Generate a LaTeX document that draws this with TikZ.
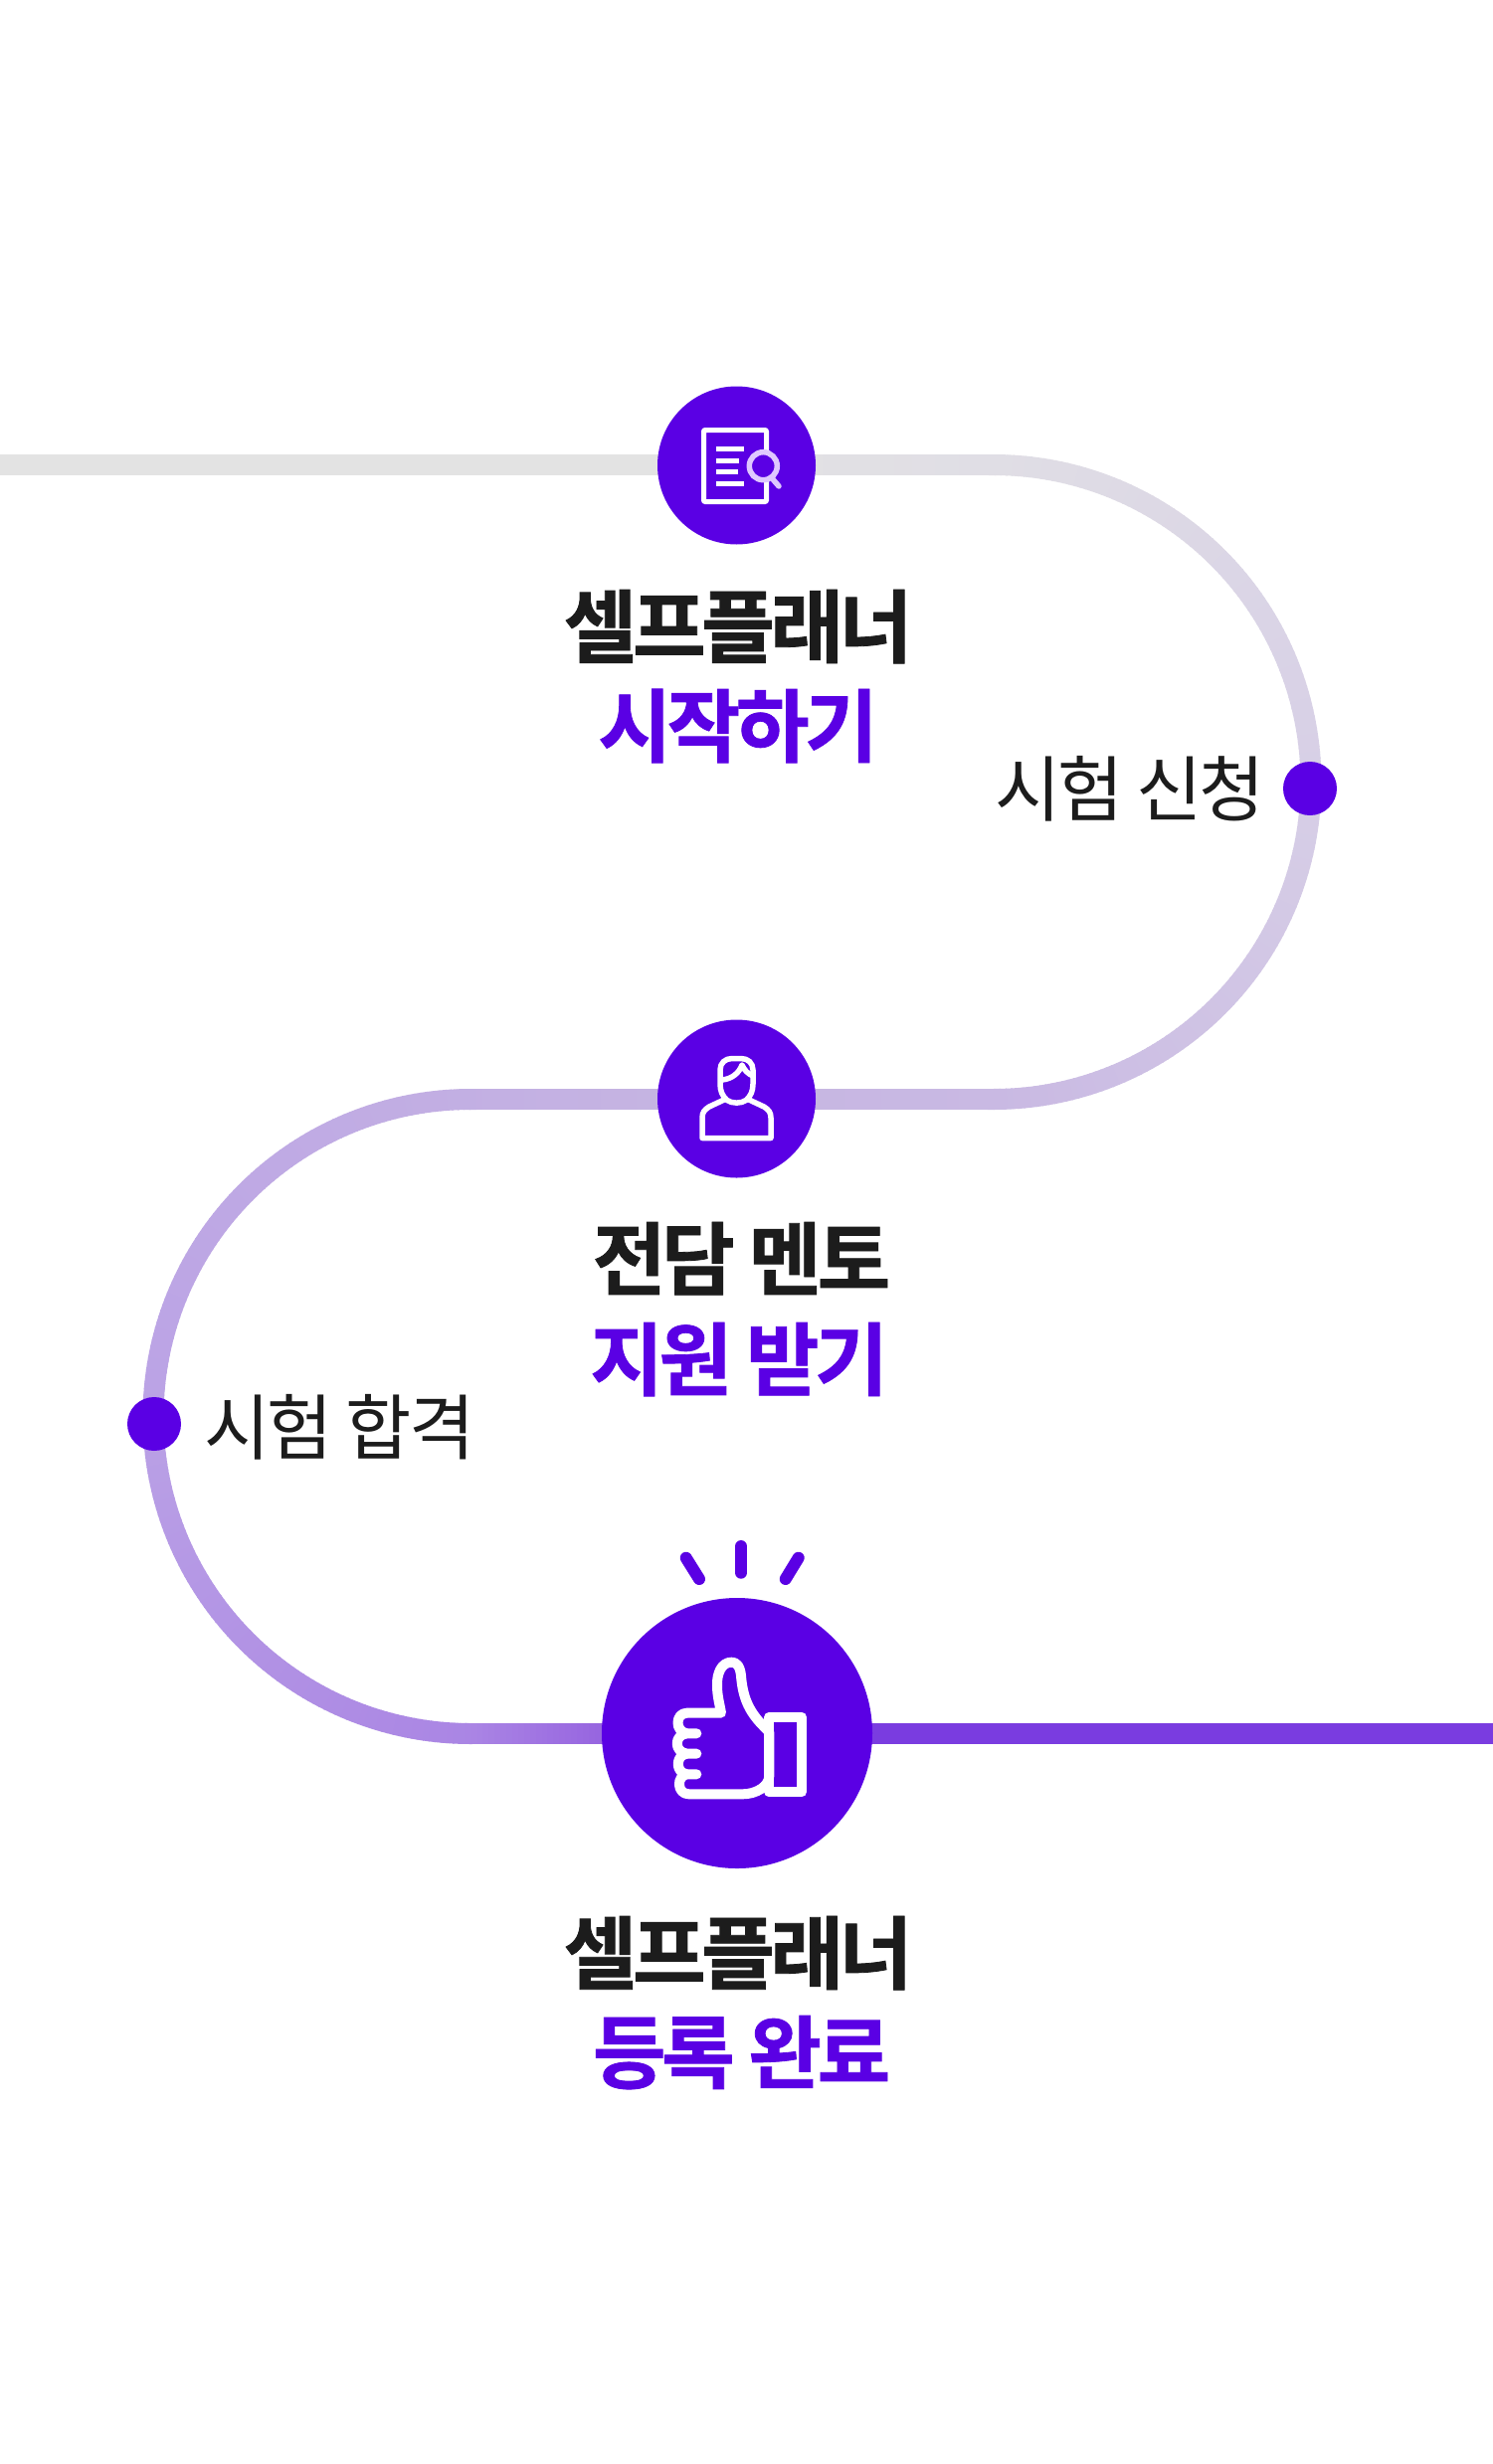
\documentclass[tikz,border=0pt]{standalone}
\usepackage{fontspec}
\newfontfamily\krblack[LetterSpace=-5.5,FakeBold=1]{Noto Sans CJK KR Bold}
\newfontfamily\krlight[LetterSpace=-4.5]{Noto Sans CJK KR}
\definecolor{brand}{HTML}{5A00E4}
\definecolor{ink}{HTML}{1C1C1C}
\definecolor{lens}{HTML}{DFC8FF}
\definecolor{ca}{HTML}{E3E3E3}
\definecolor{cb}{HTML}{E0DEE5}
\definecolor{cc}{HTML}{D7CFE6}
\definecolor{cd}{HTML}{C9B9E3}
\definecolor{ce}{HTML}{C6B5E2}
\definecolor{cf}{HTML}{BBA3E5}
\definecolor{cg}{HTML}{AA85E4}
\definecolor{ch}{HTML}{9765E0}
\definecolor{ci}{HTML}{7A3CE0}
\pgfdeclarelayer{bg}
\pgfdeclarelayer{rail}
\pgfsetlayers{bg,rail,main}
\tikzset{
  stepdisc/.style={circle,fill=brand,inner sep=0pt,minimum size=#1},
  title/.style={inner sep=0pt,anchor=base,text=ink,font=\krblack\fontsize{80}{80}\selectfont},
  subtitle/.style={inner sep=0pt,anchor=base,text=brand,font=\krblack\fontsize{80}{80}\selectfont},
  tag/.style={inner sep=0pt,anchor=base,text=ink,font=\krlight\fontsize{72}{72}\selectfont},
  icon/.style={draw=white,line join=round,line cap=butt,fill=none},
  ray/.style={draw=brand,line width=12pt,line cap=round},
}
\begin{document}
\begin{tikzpicture}[x=1pt,y=-1pt,
  declare function={
    railx(\s)=ifthenelse(\s<999,\s,ifthenelse(\s<2001.2,999+319*sin(deg((\s-999)/319)),ifthenelse(\s<2527.2,999-(\s-2001.2),ifthenelse(\s<3529.4,473-319*sin(deg((\s-2527.2)/319)),473+(\s-3529.4)))));
    raily(\s)=ifthenelse(\s<999,467.5,ifthenelse(\s<2001.2,786.5-319*cos(deg((\s-999)/319)),ifthenelse(\s<2527.2,1105.5,ifthenelse(\s<3529.4,1424.5-319*cos(deg((\s-2527.2)/319)),1743.5))));
  }]
\useasboundingbox (0,0) rectangle (1500,2478);
\begin{pgfonlayer}{bg}
  \fill[white] (0,0) rectangle (1500,2478);
\end{pgfonlayer}

% step discs
\node[stepdisc=159pt] (stepone) at (740.5,468) {};
\node[stepdisc=159pt] (steptwo) at (740.5,1105) {};
\node[stepdisc=272pt] (stepthree) at (741,1743) {};
\node[stepdisc=54pt] (dotone) at (1317,793) {};
\node[stepdisc=54pt] (dottwo) at (155,1432) {};

% rail
\coordinate (railstart) at (0,467.5);
\coordinate (arconetop) at (999,467.5);
\coordinate (arctwotop) at (473,1105.5);
\coordinate (railend) at (1500,1743.5);
\begin{pgfonlayer}{rail}
  \draw[line width=19pt,color=ce] (railstart) -- (stepone) -- (arconetop)
     arc[start angle=-90,end angle=90,radius=319] -- (steptwo) -- (arctwotop)
     arc[start angle=-90,end angle=-270,radius=319] -- (stepthree) -- (railend);
  \foreach \sa/\sb/\ca/\cb in {0/660/ca/ca,660/1000/ca/cb,1000/1500/cb/cc,1500/2000/cc/cd,2000/2300/cd/ce,2300/3000/ce/cf,3000/3530/cf/cg,3530/3660/cg/ch,3660/3930/ch/ci,3930/4560/ci/ci}{
    \pgfmathtruncatemacro{\nn}{ceil((\sb-\sa)/6)}
    \foreach \i in {1,...,\nn}{
      \pgfmathsetmacro{\sx}{\sa+(\i-1)/\nn*(\sb-\sa)}
      \pgfmathsetmacro{\se}{\sx+(\sb-\sa)/\nn+1.2}
      \pgfmathsetmacro{\xa}{railx(\sx)}
      \pgfmathsetmacro{\ya}{raily(\sx)}
      \pgfmathsetmacro{\xb}{railx(\se)}
      \pgfmathsetmacro{\yb}{raily(\se)}
      \pgfmathsetmacro{\pp}{100*(1-(\i-0.5)/\nn)}
      \draw[line width=21pt,color=\ca!\pp!\cb] (\xa,\ya) -- (\xb,\yb);
    }
  }
\end{pgfonlayer}

% texts
\node[title] (titleone) at (742,660) {셀프플래너};
\node[subtitle] (subone) at (742,760) {시작하기};
\node[tag] (tagone) at (1136,820) {시험 신청};
\node[title] (titletwo) at (745.5,1296) {전담 멘토};
\node[subtitle] (subtwo) at (743,1397) {지원 받기};
\node[tag] (tagtwo) at (341.5,1462) {시험 합격};
\node[title] (titlethree) at (742,1994) {셀프플래너};
\node[subtitle] (subthree) at (745.5,2094) {등록 완료};

% document icon
\draw[icon,line width=5pt,rounded corners=1pt] (707.5,432.5) rectangle (770.5,504.5);
\foreach \ly/\lx in {451.5/748,463/743,474.5/742,486.5/748}{
  \draw[draw=white,line width=5pt] (720,\ly) -- (\lx,\ly);
}
\fill[brand] (767.3,468.7) circle (15);
\draw[lens,line width=5.5pt] (767.3,468.7) circle (14);
\draw[lens,line width=5.5pt,line cap=round] (777,482) -- (783,489);

% mentor icon
\draw[icon,line width=5.5pt] (731,1106.5)
  .. controls (726,1102) and (724,1097) .. (724,1090)
  -- (724,1076) .. controls (724,1069) and (729,1064.5) .. (736,1064.5)
  -- (745,1064.5) .. controls (752,1064.5) and (757,1069) .. (757,1076)
  -- (757,1090) .. controls (757,1097) and (755,1102) .. (750,1106.5)
  .. controls (745,1110) and (736,1110) .. (731,1106.5) -- cycle;
\draw[icon,line width=5.5pt] (726,1086) .. controls (736,1085) and (743,1079) .. (746,1071)
  .. controls (748,1076) and (752,1080) .. (757,1082);
\draw[icon,line width=5.5pt] (729,1105.5) -- (713,1113)
  .. controls (708,1116) and (706,1119) .. (706,1124) -- (706,1144.5) -- (775,1144.5) -- (775,1124)
  .. controls (775,1119) and (773,1116) .. (768,1113) -- (752,1105.5);

% thumb icon
\begin{scope}[shift={(590,1530)},x=0.3333pt,y=-0.3333pt]
  \draw[icon,line width=10pt,line cap=round] (550,636)
     -- (525,610) .. controls (488,570) and (470,530) .. (465,465)
     .. controls (462,435) and (450,425) .. (437,425)
     .. controls (405,425) and (392,460) .. (393,495)
     .. controls (393,525) and (400,550) .. (405,578)
     -- (303,578) .. controls (265,578) and (265,636) .. (303,640) -- (331,640)
     (303,640) .. controls (262,642) and (262,698) .. (303,701) -- (331,701)
     (303,701) .. controls (266,704) and (266,760) .. (303,763) -- (331,763)
     (303,763) .. controls (270,766) and (270,823) .. (308,823)
     -- (470,823) .. controls (510,823) and (550,800) .. (550,768) -- (550,636);
  \draw[icon,line width=10pt] (550,590.5) rectangle (648,817);
\end{scope}

% rays
\coordinate (rayatop) at (689.7,1566.7);
\coordinate (rayafoot) at (703,1588);
\coordinate (raybtop) at (745,1555);
\coordinate (raybfoot) at (745,1581.7);
\coordinate (rayctop) at (802.7,1566.7);
\coordinate (raycfoot) at (789.7,1588);
\draw[ray] (rayatop) -- (rayafoot);
\draw[ray] (raybtop) -- (raybfoot);
\draw[ray] (rayctop) -- (raycfoot);
\end{tikzpicture}
\end{document}
